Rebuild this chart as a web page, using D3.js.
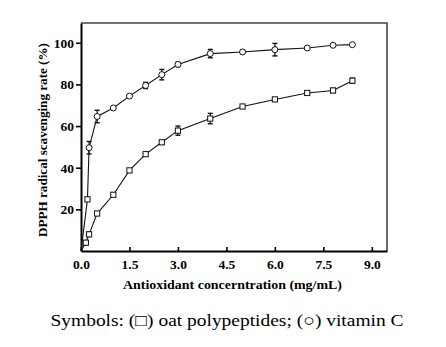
<!DOCTYPE html>
<html>
<head>
<meta charset="utf-8">
<script src="https://cdn.jsdelivr.net/npm/d3@7"></script>
<style>
  body { margin: 0; background: #fff; }
  svg { display: block; }
</style>
</head>
<body>
<svg id="chart" width="446" height="347"></svg>
<script>
// concentrations (mg/mL) and DPPH scavenging rate (%)
const oatConc = [0, 0.15, 0.25, 0.5, 1.0, 1.5, 2.0, 2.5, 3.0, 4.0, 5.0, 6.0, 7.0, 7.8, 8.4];
const oatRate = [0, 4, 8, 18, 27, 38.7, 46.5, 52.2, 57.8, 63.6, 69.4, 72.8, 75.9, 77.1, 81.8];
const oatErr  = [0, 1, 1, 0.8, 0.8, 0.8, 0.8, 0.8, 2.2, 2.5, 0.8, 0.8, 0.5, 1, 1.2];

const vcConc = [0, 0.2, 0.25, 0.5, 1.0, 1.5, 2.0, 2.5, 3.0, 4.0, 5.0, 6.0, 7.0, 7.8, 8.4];
const vcRate = [0, 24.8, 49.6, 64.6, 68.7, 74.4, 79.5, 84.7, 89.6, 94.8, 95.6, 96.7, 97.5, 98.8, 99.1];
const vcErr  = [0, 0, 3, 3, 0.8, 0.8, 1.5, 2.5, 1, 2, 0.8, 3, 0, 0, 0];
const vcShape = ["c", "s", "c", "c", "c", "c", "c", "c", "c", "c", "c", "c", "c", "c", "c"];

const xTicks = [0, 1.5, 3.0, 4.5, 6.0, 7.5, 9.0];
const yTicks = [20, 40, 60, 80, 100];

const svg = d3.select("#chart");
const m = { left: 81, right: 387, top: 23, bottom: 251 };

const x = d3.scaleLinear().domain([0, 9.47]).range([m.left, m.right]);
const y = d3.scaleLinear().domain([0, 109.5]).range([m.bottom, m.top]);

// frame: top and right sides lighter
svg.append("path")
  .attr("d", `M${m.left},${m.top}H${m.right}V${m.bottom}`)
  .attr("fill", "none").attr("stroke", "#444").attr("stroke-width", 1.6);

const font = "'Liberation Serif', 'Times New Roman', serif";

const xAxis = svg.append("g")
  .attr("transform", `translate(0,${m.bottom})`)
  .call(d3.axisBottom(x).tickValues(xTicks).tickFormat(d3.format(".1f")).tickSizeInner(-4).tickSizeOuter(0).tickPadding(8));
xAxis.select(".domain").attr("stroke-width", 2);
xAxis.selectAll("line").attr("stroke-width", 1.6);
xAxis.selectAll("text").attr("font-family", font).attr("font-weight", "bold").attr("font-size", 13.5).attr("fill", "#000");

const yAxis = svg.append("g")
  .attr("transform", `translate(${m.left},0)`)
  .call(d3.axisLeft(y).tickValues(yTicks).tickSizeInner(5).tickSizeOuter(0).tickPadding(2));
yAxis.select(".domain").attr("stroke-width", 2);
yAxis.selectAll("line").attr("stroke-width", 1.6);
yAxis.selectAll("text").attr("font-family", font).attr("font-weight", "bold").attr("font-size", 13.5).attr("fill", "#000");

svg.append("text")
  .attr("x", 232.5).attr("y", 289)
  .attr("text-anchor", "middle")
  .attr("font-family", font).attr("font-weight", "bold").attr("font-size", 13)
  .attr("textLength", 219).attr("lengthAdjust", "spacingAndGlyphs")
  .text("Antioxidant concerntration (mg/mL)");

svg.append("text")
  .attr("transform", "translate(47,140) rotate(-90)")
  .attr("text-anchor", "middle")
  .attr("font-family", font).attr("font-weight", "bold").attr("font-size", 13)
  .attr("textLength", 194).attr("lengthAdjust", "spacingAndGlyphs")
  .text("DPPH radical scavenging rate (%)");

svg.append("text")
  .attr("x", 227).attr("y", 326)
  .attr("text-anchor", "middle")
  .attr("font-family", font).attr("font-size", 17)
  .attr("textLength", 353).attr("lengthAdjust", "spacingAndGlyphs")
  .text("Symbols: (\u25A1) oat polypeptides; (\u25CB) vitamin C");

function drawSeries(conc, rate, err, shapes) {
  const pts = conc.map((c, i) => ({ c, r: rate[i], e: err[i], s: shapes[i] }));
  const line = d3.line().x(d => x(d.c)).y(d => y(d.r));
  const g = svg.append("g");
  g.append("path").datum(pts)
    .attr("d", line).attr("fill", "none").attr("stroke", "#111").attr("stroke-width", 1.1);

  const eb = g.selectAll(".eb").data(pts.filter(d => d.e > 0)).join("g");
  eb.append("line")
    .attr("x1", d => x(d.c)).attr("x2", d => x(d.c))
    .attr("y1", d => y(d.r - d.e)).attr("y2", d => y(d.r + d.e))
    .attr("stroke", "#111").attr("stroke-width", 1.2);
  [-1, 1].forEach(k => {
    eb.append("line")
      .attr("x1", d => x(d.c) - 2.5).attr("x2", d => x(d.c) + 2.5)
      .attr("y1", d => y(d.r + k * d.e)).attr("y2", d => y(d.r + k * d.e))
      .attr("stroke", "#111").attr("stroke-width", 1.4);
  });

  const mk = pts.filter(d => d.c > 0);
  g.selectAll(".sq").data(mk.filter(d => d.s === "s")).join("rect")
    .attr("x", d => x(d.c) - 2.6).attr("y", d => y(d.r) - 2.6)
    .attr("width", 5.2).attr("height", 5.2)
    .attr("fill", "#fff").attr("stroke", "#111").attr("stroke-width", 1);
  g.selectAll(".ci").data(mk.filter(d => d.s === "c")).join("circle")
    .attr("cx", d => x(d.c)).attr("cy", d => y(d.r)).attr("r", 3)
    .attr("fill", "#fff").attr("stroke", "#111").attr("stroke-width", 1);
}

drawSeries(oatConc, oatRate, oatErr, oatConc.map(() => "s"));
drawSeries(vcConc, vcRate, vcErr, vcShape);
</script>
</body>
</html>
